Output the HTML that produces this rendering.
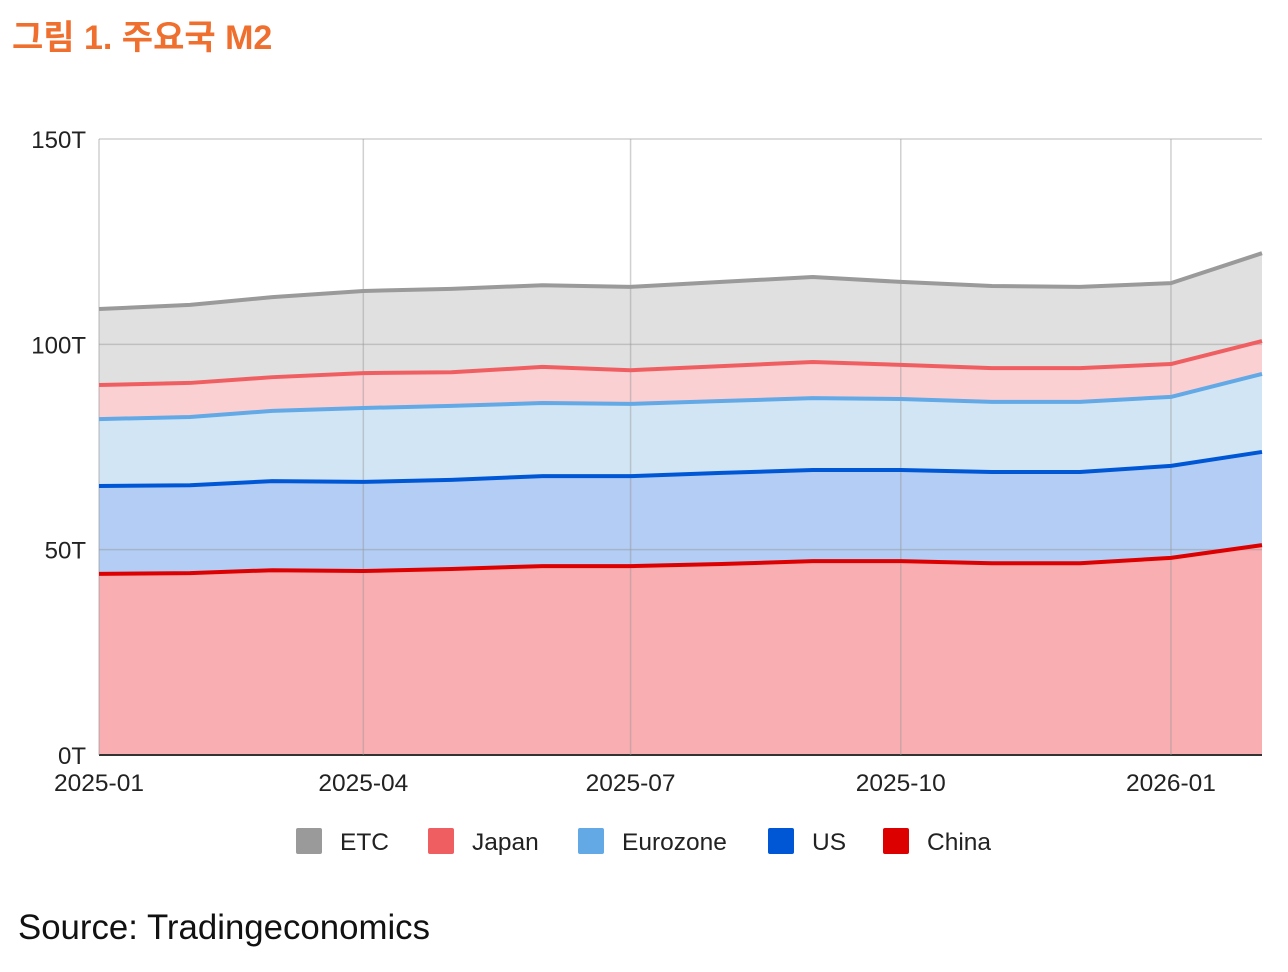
<!DOCTYPE html>
<html><head><meta charset="utf-8"><style>
body{margin:0;background:#fff;width:1288px;height:972px;overflow:hidden;font-family:"Liberation Sans","Noto Sans CJK KR",sans-serif}
</style></head><body>
<div style="position:absolute;left:12px;top:10px;font-size:34px;font-weight:bold;color:#ef6f2e;font-family:'Liberation Sans','Noto Sans CJK KR',sans-serif">그림 1. 주요국 M2</div>
<svg id="chart" width="1288" height="972" style="position:absolute;left:0;top:0"></svg>
<div style="position:absolute;left:18px;top:908px;font-size:34.8px;color:#111">Source: Tradingeconomics</div>
<script>
const months = ["2025-01-01","2025-02-01","2025-03-01","2025-04-01","2025-05-01","2025-06-01","2025-07-01","2025-08-01","2025-09-01","2025-10-01","2025-11-01","2025-12-01","2026-01-01","2026-02-01"];
const china = [44.1,44.3,45.0,44.8,45.3,46.0,46.0,46.5,47.2,47.2,46.7,46.7,48.0,51.1];
const us = [21.4,21.4,21.7,21.7,21.7,21.9,21.9,22.2,22.2,22.2,22.2,22.2,22.4,22.7];
const eurozone = [16.3,16.6,17.1,18.0,18.0,17.8,17.6,17.5,17.5,17.3,17.1,17.1,16.8,19.0];
const japan = [8.3,8.3,8.2,8.5,8.2,8.8,8.2,8.5,8.8,8.3,8.2,8.2,8.0,8.0];
const etc = [18.5,19.0,19.5,20.0,20.3,19.9,20.3,20.5,20.7,20.2,20.0,19.8,19.7,21.4];
const yTicks = [0,50,100,150];
const yTickLabels = ["0T","50T","100T","150T"];
const xTicks = ["2025-01-01","2025-04-01","2025-07-01","2025-10-01","2026-01-01"];
const xTickLabels = ["2025-01","2025-04","2025-07","2025-10","2026-01"];

const svg=document.getElementById('chart');const NS='http://www.w3.org/2000/svg';
const L=99,R=1262,T=139,B=755;
const t0=Date.parse(months[0]),t1=Date.parse(months[months.length-1]);
const x=d=>L+(Date.parse(d)-t0)/(t1-t0)*(R-L);
const y=v=>B-v/150*(B-T);
function mk(tag,attrs){const e=document.createElementNS(NS,tag);for(const k in attrs)e.setAttribute(k,attrs[k]);svg.appendChild(e);return e;}
const series=[
 {n:"china",v:china,fill:"#f9aeb2",line:"#dd0000",label:"China"},
 {n:"us",v:us,fill:"#b3cdf4",line:"#0057d6",label:"US"},
 {n:"eurozone",v:eurozone,fill:"#d2e5f5",line:"#62a9e6",label:"Eurozone"},
 {n:"japan",v:japan,fill:"#fbd0d3",line:"#ef5f62",label:"Japan"},
 {n:"etc",v:etc,fill:"#e0e0e0",line:"#9a9a9a",label:"ETC"}];
let base=months.map(()=>0);
const tops=[];
series.forEach(s=>{
 const top=base.map((b,i)=>b+s.v[i]);
 let d="M"+months.map((m,i)=>x(m)+","+y(top[i])).join(" L");
 for(let i=months.length-1;i>=0;i--)d+=" L"+x(months[i])+","+y(base[i]);
 const a=mk('path',{d:d+"Z",fill:s.fill});
 
 
 tops.push([s,top]);base=top;
});
yTicks.forEach((v,i)=>{
 const g=mk('line',{x1:L,x2:R,y1:y(v),y2:y(v),stroke:i==0?'#333':'rgba(150,150,150,0.45)','stroke-width':i==0?2:1.5});
 
 
 const t=mk('text',{x:L-13,y:y(v)+9,'text-anchor':'end','font-size':24,fill:'#222'});t.textContent=yTickLabels[i];
 
 
});
xTicks.forEach((d,i)=>{
 const g=mk('line',{x1:x(d),x2:x(d),y1:T,y2:B,stroke:'rgba(150,150,150,0.45)','stroke-width':1.5});
 
 
 const t=mk('text',{x:x(d),y:791,'text-anchor':'middle','font-size':24.5,fill:'#222'});t.textContent=xTickLabels[i];
 
 
});
tops.forEach(([s,top])=>{
 const p=mk('polyline',{points:months.map((m,i)=>x(m)+","+y(top[i])).join(" "),fill:'none',stroke:s.line,'stroke-width':4,'stroke-linejoin':'round'});
 
 
});
const leg=[["ETC","#9a9a9a",296],["Japan","#ef5f62",428],["Eurozone","#62a9e6",578],["US","#0057d6",768],["China","#dd0000",883]];
leg.forEach(l=>{
 const r=mk('rect',{x:l[2],y:828,width:26,height:26,rx:2,fill:l[1]});
 
 
 const t=mk('text',{x:l[2]+44,y:850,'font-size':24.5,fill:'#222'});t.textContent=l[0];
 
 
});
</script>
</body></html>
